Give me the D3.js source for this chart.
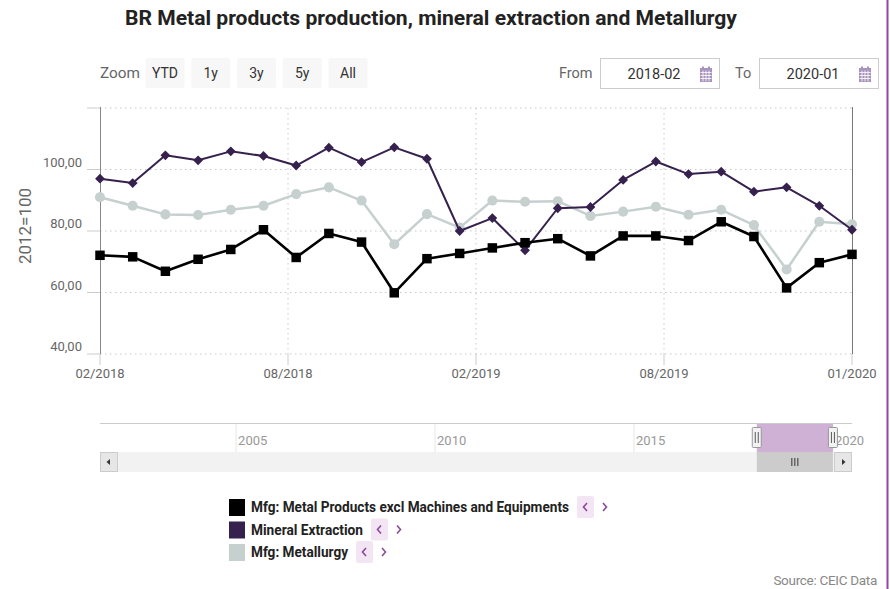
<!DOCTYPE html>
<html><head><meta charset="utf-8">
<script src="https://cdn.jsdelivr.net/npm/d3@7/dist/d3.min.js"></script>
<style>
body{margin:0;background:#fff;}
svg{display:block;font-family:Roboto,"Noto Sans",sans-serif;}
</style>
</head><body>
<svg id="chart" width="890" height="589"></svg>
<script>
// ---------- data ----------
const months = ["2018-02","2018-03","2018-04","2018-05","2018-06","2018-07","2018-08","2018-09","2018-10","2018-11","2018-12","2019-01",
                "2019-02","2019-03","2019-04","2019-05","2019-06","2019-07","2019-08","2019-09","2019-10","2019-11","2019-12","2020-01"];
const metalProducts     = [72.1,71.6,66.9,70.8,74.0,80.4,71.4,79.2,76.4,59.9,71.0,72.7,74.5,76.2,77.5,71.9,78.4,78.4,76.9,83.0,78.2,61.5,69.7,72.4];
const mineralExtraction = [97.0,95.6,104.6,103.0,105.9,104.4,101.3,107.1,102.4,107.2,103.5,80.0,84.2,73.7,87.4,87.8,96.6,102.6,98.5,99.3,92.8,94.2,88.2,80.4];
const metallurgy        = [91.0,88.2,85.4,85.2,86.9,88.2,92.0,94.2,89.9,75.7,85.5,81.1,89.9,89.5,89.7,84.9,86.3,87.9,85.3,86.9,81.9,67.5,83.0,82.2];
const seriesNames  = ["Mfg: Metal Products excl Machines and Equipments","Mineral Extraction","Mfg: Metallurgy"];
const seriesColors = ["#000000","#36214e","#c6d0cf"];
const xTickLabels  = ["02/2018","08/2018","02/2019","08/2019","01/2020"];
const yTicks       = [40,60,80,100];
const yMax         = 120;
const zoomButtons  = ["YTD","1y","3y","5y","All"];
const navYears     = [2005,2010,2015,2020];
const fromDate = "2018-02", toDate = "2020-01";

// ---------- layout ----------
const svg = d3.select("#chart");
const L = 100, R = 852, T = 108, B = 354;
const x = d3.scaleLinear().domain([0, months.length - 1]).range([L, R]);
const y = d3.scaleLinear().domain([40, yMax]).range([B, T]);
const fmt = v => d3.format(".2f")(v).replace(".", ",");

// title
svg.append("text").attr("x", 431).attr("y", 25).attr("text-anchor", "middle")
  .attr("font-size", 20).attr("font-weight", "bold").attr("fill", "#222")
  .attr("textLength", 612).attr("lengthAdjust", "spacingAndGlyphs")
  .text("BR Metal products production, mineral extraction and Metallurgy");

// zoom buttons
svg.append("text").attr("x", 100).attr("y", 78).attr("font-size", 15).attr("fill", "#666")
  .attr("textLength", 40).attr("lengthAdjust", "spacingAndGlyphs").text("Zoom");
const btnX = d3.scalePoint().domain(zoomButtons).range([165, 348]);
const btn = svg.append("g").selectAll("g").data(zoomButtons).join("g");
btn.append("rect").attr("x", d => btnX(d) - 19.5).attr("y", 58).attr("width", 39).attr("height", 30)
  .attr("rx", 2).attr("fill", "#f7f7f7");
btn.append("text").attr("x", d => btnX(d)).attr("y", 78).attr("text-anchor", "middle")
  .attr("font-size", 14).attr("fill", "#333").text(d => d);

// date inputs
function calendar(cx, cy) {
  const g = svg.append("g").attr("transform", `translate(${cx - 6},${cy - 7})`);
  g.append("rect").attr("width", 12).attr("height", 14).attr("y", 1).attr("fill", "#a893bf");
  g.append("rect").attr("x", 2).attr("y", -0.5).attr("width", 2).attr("height", 3).attr("fill", "#a893bf");
  g.append("rect").attr("x", 8).attr("y", -0.5).attr("width", 2).attr("height", 3).attr("fill", "#a893bf");
  [5.5, 8.5, 11.5].forEach(v => g.append("line").attr("x1", 0.5).attr("x2", 11.5).attr("y1", v).attr("y2", v).attr("stroke", "#fff").attr("stroke-width", 0.8));
  [3, 6, 9].forEach(v => g.append("line").attr("x1", v).attr("x2", v).attr("y1", 3.5).attr("y2", 14.5).attr("stroke", "#fff").attr("stroke-width", 0.8));
}
function dateBox(label, lx, bx, val) {
  svg.append("text").attr("x", lx).attr("y", 78).attr("font-size", 14.5).attr("fill", "#666").text(label);
  svg.append("rect").attr("x", bx + 0.5).attr("y", 58.5).attr("width", 119).attr("height", 30)
    .attr("fill", "#fff").attr("stroke", "#ccc");
  svg.append("text").attr("x", bx + 54).attr("y", 79).attr("text-anchor", "middle")
    .attr("font-size", 14.5).attr("fill", "#333").text(val);
  calendar(bx + 106, 74);
}
dateBox("From", 559, 600, fromDate);
dateBox("To", 735, 759, toDate);

// gridlines
const grid = svg.append("g");
[...yTicks, yMax].forEach(t => {
  grid.append("line").attr("x1", L).attr("x2", R).attr("y1", y(t)).attr("y2", y(t))
    .attr("stroke", "#c8c8c8").attr("stroke-dasharray", "1.5,3.5");
  grid.append("line").attr("x1", L - 13).attr("x2", L).attr("y1", y(t)).attr("y2", y(t))
    .attr("stroke", "#ccc");
});
const xTickVals = xTickLabels.map((_, i) => i * (months.length - 1) / (xTickLabels.length - 1));
xTickVals.forEach((v, i) => {
  if (i > 0 && i < xTickVals.length - 1)
    grid.append("line").attr("x1", x(v)).attr("x2", x(v)).attr("y1", T).attr("y2", B)
      .attr("stroke", "#c8c8c8").attr("stroke-dasharray", "1.5,3.5");
  grid.append("line").attr("x1", x(v)).attr("x2", x(v)).attr("y1", B).attr("y2", B + 11).attr("stroke", "#ccc");
  svg.append("text").attr("x", x(v)).attr("y", 378).attr("text-anchor", "middle")
    .attr("font-size", 13).attr("fill", "#666").text(xTickLabels[i]);
});
// y labels
yTicks.forEach(t => {
  svg.append("text").attr("x", 82).attr("y", y(t) - 3).attr("text-anchor", "end")
    .attr("font-size", 13).attr("fill", "#666").text(fmt(t));
});
// axis lines
svg.append("line").attr("x1", L + 0.5).attr("x2", L + 0.5).attr("y1", T - 1).attr("y2", B).attr("stroke", "#888");
svg.append("line").attr("x1", R + 0.5).attr("x2", R + 0.5).attr("y1", T - 1).attr("y2", B).attr("stroke", "#777");
// y title
svg.append("text").attr("transform", "translate(31,226) rotate(-90)").attr("text-anchor", "middle")
  .attr("font-size", 17).attr("fill", "#666").text("2012=100");

// series
const line = d3.line().x((d, i) => x(i)).y(d => y(d));
function drawSeries(data, color, width, shape, size, rot) {
  const g = svg.append("g");
  g.append("path").attr("d", line(data)).attr("fill", "none").attr("stroke", color).attr("stroke-width", width)
    .attr("stroke-linejoin", "round");
  g.selectAll("path.m").data(data).join("path").attr("class", "m")
    .attr("d", d3.symbol().type(shape).size(size))
    .attr("transform", (d, i) => `translate(${x(i)},${y(d)}) rotate(${rot})`)
    .attr("fill", color);
}
drawSeries(metallurgy, seriesColors[2], 2.5, d3.symbolCircle, 80, 0);
drawSeries(mineralExtraction, seriesColors[1], 2, d3.symbolSquare, 48, 45);
drawSeries(metalProducts, seriesColors[0], 2.6, d3.symbolSquare, 90, 0);

// navigator
const nav = d3.scaleTime().domain([new Date(2001, 7, 1), new Date(2020, 5, 24)]).range([L, R]);
const parseM = d3.timeParse("%Y-%m");
const selA = nav(parseM(months[0])), selB = nav(parseM(months[months.length - 1]));
svg.append("line").attr("x1", L).attr("x2", R).attr("y1", 423.5).attr("y2", 423.5).attr("stroke", "#ccc");
navYears.forEach(yr => {
  const px = nav(new Date(yr, 0, 1));
  svg.append("line").attr("x1", px).attr("x2", px).attr("y1", 424).attr("y2", 452).attr("stroke", "#e6e6e6");
  svg.append("text").attr("x", px + 2).attr("y", 445).attr("font-size", 13).attr("fill", "#999").text(yr);
});
svg.append("rect").attr("x", selA).attr("y", 424).attr("width", selB - selA).attr("height", 28)
  .attr("fill", "#cfb1d5");
[selA, selB].forEach(px => {
  svg.append("rect").attr("x", px - 4.5).attr("y", 427.5).attr("width", 9).attr("height", 20).attr("rx", 1)
    .attr("fill", "#f2f2f2").attr("stroke", "#999");
  [-1.5, 1.5].forEach(o => svg.append("line").attr("x1", px + o).attr("x2", px + o).attr("y1", 432).attr("y2", 443).attr("stroke", "#333").attr("stroke-width", 0.8));
});
// scrollbar
svg.append("rect").attr("x", L).attr("y", 452).attr("width", R - L).attr("height", 20).attr("fill", "#f2f2f2");
svg.append("rect").attr("x", L + 0.5).attr("y", 452.5).attr("width", 17).attr("height", 19).attr("fill", "#e6e6e6").attr("stroke", "#ccc");
svg.append("rect").attr("x", selA).attr("y", 452).attr("width", selB - selA).attr("height", 20).attr("fill", "#cccccc");
svg.append("rect").attr("x", R - 17.5).attr("y", 452.5).attr("width", 17).attr("height", 19).attr("fill", "#e6e6e6").attr("stroke", "#ccc");
svg.append("path").attr("d", `M${L + 10},459 L${L + 6.5},462 L${L + 10},465 Z`).attr("fill", "#333");
svg.append("path").attr("d", `M${R - 10},459 L${R - 6.5},462 L${R - 10},465 Z`).attr("fill", "#333");
const mid = (selA + selB) / 2;
[-3, 0, 3].forEach(o => svg.append("line").attr("x1", mid + o).attr("x2", mid + o).attr("y1", 458).attr("y2", 466).attr("stroke", "#333"));

// legend
const legendWidths = [318, 112, 97];
const leg = svg.append("g");
seriesNames.forEach((name, i) => {
  const cy = 507 + i * 22.5;
  leg.append("rect").attr("x", 229).attr("y", cy - 8).attr("width", 16).attr("height", 17).attr("fill", seriesColors[i]);
  leg.append("text").attr("x", 251).attr("y", cy + 5).attr("font-size", 14.5).attr("font-weight", "bold")
    .attr("fill", "#222").attr("textLength", legendWidths[i]).attr("lengthAdjust", "spacingAndGlyphs").text(name);
  const bx = 251 + legendWidths[i] + 8;
  leg.append("rect").attr("x", bx).attr("y", cy - 11).attr("width", 17).attr("height", 22).attr("rx", 2).attr("fill", "#f3e5f3");
  leg.append("path").attr("d", `M${bx + 10},${cy - 4} L${bx + 6.5},${cy} L${bx + 10},${cy + 4}`).attr("fill", "none")
    .attr("stroke", "#8c4a9c").attr("stroke-width", 1.6);
  leg.append("path").attr("d", `M${bx + 26},${cy - 4} L${bx + 29.5},${cy} L${bx + 26},${cy + 4}`).attr("fill", "none")
    .attr("stroke", "#8c4a9c").attr("stroke-width", 1.6);
});

// source
svg.append("text").attr("x", 877).attr("y", 585).attr("text-anchor", "end").attr("font-size", 13.5)
  .attr("letter-spacing", "-0.3").attr("fill", "#888").text("Source: CEIC Data");

// right border
svg.append("line").attr("x1", 887.5).attr("x2", 887.5).attr("y1", 0).attr("y2", 589).attr("stroke", "#8e4b9e").attr("stroke-width", 2);
</script>
</body></html>
